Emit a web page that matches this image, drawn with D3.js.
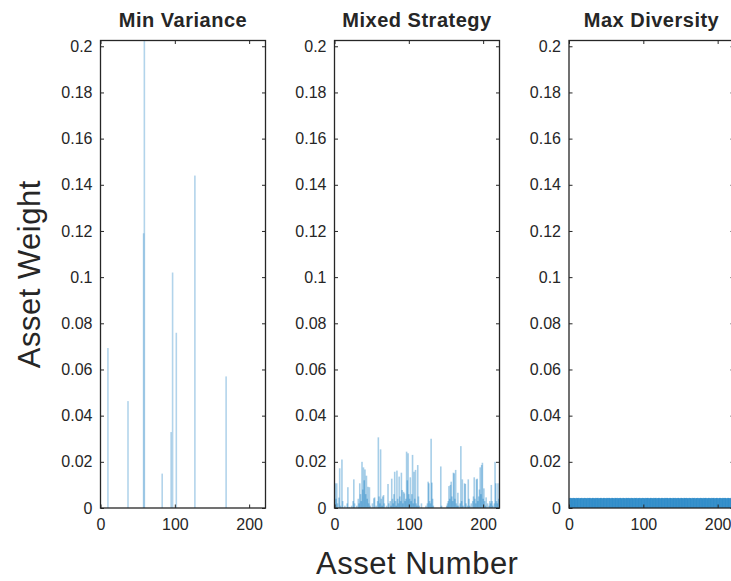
<!DOCTYPE html>
<html>
<head>
<meta charset="utf-8">
<script src="https://cdn.jsdelivr.net/npm/d3@7"></script>
<style>
  html, body { margin: 0; padding: 0; background: #fff; overflow: hidden; }
  svg { display: block; }
  text { font-family: "Liberation Sans", Arial, Helvetica, sans-serif; fill: #262626; }
</style>
</head>
<body>
<svg id="chart" width="731" height="581"></svg>
<script>
// Portfolio weights per asset (asset numbers 1..221)
const panelTitles = ["Min Variance", "Mixed Strategy", "Max Diversity"];
const yTicks = [0, 0.02, 0.04, 0.06, 0.08, 0.1, 0.12, 0.14, 0.16, 0.18, 0.2];
const xTicks = [0, 100, 200];
const assetCount = 221;

// Min variance: only a handful of assets receive weight
const minVarAssets  = [10, 37, 58, 59, 83, 95, 97, 102, 127, 169];
const minVarWeights = [0.0693, 0.0463, 0.119, 0.235, 0.0149, 0.0329, 0.102, 0.0759, 0.144, 0.057];

// Mixed strategy: weights for assets 1..221
const mixedWeights = [
  0.0107, 0.004, 0.0107, 0.002, 0, 0.0045, 0.0172, 0.001, 0, 0.021,
  0.003, 0, 0, 0.001, 0, 0, 0.002, 0.009, 0, 0.0005,
  0, 0, 0.001, 0, 0.003, 0.0124, 0.002, 0, 0, 0.001,
  0, 0.004, 0.002, 0.0107, 0.006, 0.003, 0.020, 0.008, 0.0176, 0.012,
  0.0167, 0.006, 0.014, 0.004, 0.0092, 0.002, 0.009, 0.001, 0, 0,
  0.002, 0, 0.0042, 0.0046, 0, 0.001, 0, 0.003, 0.0306, 0.005,
  0.002, 0.0254, 0.004, 0.001, 0.005, 0.0056, 0.002, 0, 0, 0.001,
  0, 0.0104, 0.002, 0, 0.003, 0.001, 0.0127, 0.004, 0.002, 0.006,
  0.0157, 0.003, 0.001, 0.0162, 0.004, 0.002, 0.0136, 0.005, 0.003, 0.0153,
  0.0078, 0.002, 0.007, 0.0063, 0.003, 0.004, 0.0244, 0.012, 0.0237, 0.006,
  0.004, 0.0133, 0.003, 0.006, 0.023, 0.002, 0.0157, 0.004, 0.0165, 0.002,
  0.001, 0.0186, 0.005, 0.001, 0, 0, 0.002, 0, 0, 0,
  0, 0, 0.001, 0, 0.002, 0.0114, 0.0107, 0.003, 0.002, 0.030,
  0.011, 0.004, 0.001, 0, 0, 0, 0, 0, 0, 0,
  0, 0, 0.018, 0.001, 0, 0, 0, 0, 0, 0,
  0.001, 0.002, 0.003, 0.0095, 0.004, 0.010, 0.0114, 0.005, 0.003, 0.0153,
  0.015, 0.004, 0.0165, 0.002, 0.001, 0.0066, 0.001, 0, 0.002, 0.0268,
  0.003, 0.0124, 0.001, 0, 0.0107, 0.0104, 0.002, 0, 0.001, 0.0124,
  0.004, 0.001, 0, 0.002, 0, 0.003, 0.005, 0.0133, 0.004, 0.002,
  0.0124, 0.0127, 0.003, 0.005, 0.008, 0.0176, 0.006, 0.0186, 0.0196, 0.004,
  0.0085, 0.003, 0.001, 0.0046, 0, 0.002, 0, 0.001, 0.003, 0.002,
  0.010, 0.003, 0.001, 0, 0.002, 0.020, 0.0107, 0.003, 0.002, 0.0107,
  0.004
];

// Max diversity: nearly equal weights across all assets
const maxDivWeights = [
  0.0043, 0.0044, 0.0043, 0.0042, 0.0043, 0.0044, 0.0043, 0.0043, 0.0042, 0.0044,
  0.0043, 0.0043, 0.0044, 0.0042, 0.0043, 0.0043, 0.0044, 0.0043, 0.0042, 0.0043,
  0.0044, 0.0043, 0.0043, 0.0042, 0.0044, 0.0043, 0.0043, 0.0044, 0.0043, 0.0042,
  0.0043, 0.0044, 0.0043, 0.0043, 0.0042, 0.0044, 0.0043, 0.0043, 0.0044, 0.0042,
  0.0043, 0.0043, 0.0044, 0.0043, 0.0042, 0.0043, 0.0044, 0.0043, 0.0043, 0.0042,
  0.0044, 0.0043, 0.0043, 0.0044, 0.0043, 0.0042, 0.0043, 0.0044, 0.0043, 0.0043,
  0.0042, 0.0044, 0.0043, 0.0043, 0.0044, 0.0042, 0.0043, 0.0043, 0.0044, 0.0043,
  0.0042, 0.0043, 0.0044, 0.0043, 0.0043, 0.0042, 0.0044, 0.0043, 0.0043, 0.0044,
  0.0043, 0.0042, 0.0043, 0.0044, 0.0043, 0.0043, 0.0042, 0.0044, 0.0043, 0.0043,
  0.0044, 0.0042, 0.0043, 0.0043, 0.0044, 0.0043, 0.0042, 0.0043, 0.0044, 0.0043,
  0.0043, 0.0042, 0.0044, 0.0043, 0.0043, 0.0044, 0.0043, 0.0042, 0.0043, 0.0044,
  0.0043, 0.0043, 0.0042, 0.0044, 0.0043, 0.0043, 0.0044, 0.0042, 0.0043, 0.0043,
  0.0044, 0.0043, 0.0042, 0.0043, 0.0044, 0.0043, 0.0043, 0.0042, 0.0044, 0.0043,
  0.0043, 0.0044, 0.0043, 0.0042, 0.0043, 0.0044, 0.0043, 0.0043, 0.0042, 0.0044,
  0.0043, 0.0043, 0.0044, 0.0042, 0.0043, 0.0043, 0.0044, 0.0043, 0.0042, 0.0043,
  0.0044, 0.0043, 0.0043, 0.0042, 0.0044, 0.0043, 0.0043, 0.0044, 0.0043, 0.0042,
  0.0043, 0.0044, 0.0043, 0.0043, 0.0042, 0.0044, 0.0043, 0.0043, 0.0044, 0.0042,
  0.0043, 0.0043, 0.0044, 0.0043, 0.0042, 0.0043, 0.0044, 0.0043, 0.0043, 0.0042,
  0.0044, 0.0043, 0.0043, 0.0044, 0.0043, 0.0042, 0.0043, 0.0044, 0.0043, 0.0043,
  0.0042, 0.0044, 0.0043, 0.0043, 0.0044, 0.0042, 0.0043, 0.0043, 0.0044, 0.0043,
  0.0042, 0.0043, 0.0044, 0.0043, 0.0043, 0.0042, 0.0044, 0.0043, 0.0043, 0.0044,
  0.0043, 0.0042, 0.0043, 0.0044, 0.0043, 0.0043, 0.0042, 0.0044, 0.0043, 0.0043,
  0.0044
];

// Build per-panel bar records from the arrays above
const minVarBars = minVarAssets.map((a, i) => ({ asset: a, w: minVarWeights[i] }));
const mixedBars = mixedWeights.map((w, i) => ({ asset: i + 1, w }));
const maxDivBars = maxDivWeights.map((w, i) => ({ asset: i + 1, w }));
const panelData = [minVarBars, mixedBars, maxDivBars];
const panelOpacity = [0.3, 0.35, 0.55];

const svg = d3.select("#chart");
const axisColor = "#262626";
const barColor = "#0072BD";

const panelLefts = [100.5, 334.5, 569];
const panelWidth = 165;
const plotTop = 40.5, plotBottom = 508;
const tickLen = 3.5;

const y = d3.scaleLinear().domain([0, 0.2025]).range([plotBottom, plotTop]);

panelData.forEach((bars, p) => {
  const left = panelLefts[p];
  const x = d3.scaleLinear().domain([0, assetCount + 1]).range([left, left + panelWidth]);
  // Bars are narrower than a pixel at this scale; give them a minimum visible width
  const barW = Math.max(x(0.8) - x(0), 1.6);

  const g = svg.append("g");
  const clipId = "clip" + p;
  g.append("clipPath").attr("id", clipId)
    .append("rect").attr("x", left).attr("y", plotTop)
    .attr("width", panelWidth).attr("height", plotBottom - plotTop);

  g.append("g").attr("clip-path", `url(#${clipId})`)
    .selectAll("rect").data(bars.filter(d => d.w > 0)).join("rect")
    .attr("x", d => x(d.asset) - barW / 2)
    .attr("width", barW)
    .attr("y", d => y(d.w))
    .attr("height", d => y(0) - y(d.w))
    .attr("fill", barColor)
    .attr("fill-opacity", panelOpacity[p]);

  // Axes: left/bottom with labels, mirrored ticks on right/top
  const yAxisL = d3.axisLeft(y).tickValues(yTicks).tickSizeInner(-tickLen).tickSizeOuter(0)
    .tickPadding(8).tickFormat(d3.format("~g"));
  const yAxisR = d3.axisRight(y).tickValues(yTicks).tickSizeInner(-tickLen).tickSizeOuter(0).tickFormat("");
  const xAxisB = d3.axisBottom(x).tickValues(xTicks).tickSizeInner(-tickLen).tickSizeOuter(0).tickPadding(11);
  const xAxisT = d3.axisTop(x).tickValues(xTicks).tickSizeInner(-tickLen).tickSizeOuter(0).tickFormat("");

  const styleAxis = sel => {
    sel.select(".domain").remove();
    sel.selectAll("line").attr("stroke", axisColor).attr("stroke-width", 1);
    sel.selectAll("text").attr("fill", axisColor).style("font-size", "16px")
      .style("font-family", '"Liberation Sans", Arial, sans-serif');
  };
  g.append("g").attr("transform", `translate(${left},0)`).call(yAxisL).call(styleAxis);
  g.append("g").attr("transform", `translate(${left + panelWidth},0)`).call(yAxisR).call(styleAxis);
  g.append("g").attr("transform", `translate(0,${plotBottom})`).call(xAxisB).call(styleAxis);
  g.append("g").attr("transform", `translate(0,${plotTop})`).call(xAxisT).call(styleAxis);

  // Box outline
  g.append("rect").attr("x", left).attr("y", plotTop)
    .attr("width", panelWidth).attr("height", plotBottom - plotTop)
    .attr("fill", "none").attr("stroke", axisColor).attr("stroke-width", 1.3);

  g.append("text")
    .attr("x", left + panelWidth / 2).attr("y", 27)
    .attr("text-anchor", "middle")
    .style("font-size", "20px").style("font-weight", "bold")
    .style("letter-spacing", "0.5px")
    .text(panelTitles[p]);
});

// Shared axis labels
svg.append("text")
  .attr("x", (panelLefts[0] + panelLefts[2] + panelWidth) / 2).attr("y", 574)
  .attr("text-anchor", "middle").style("font-size", "31px")
  .style("letter-spacing", "0.5px")
  .text("Asset Number");

svg.append("text")
  .attr("transform", `translate(40,${(plotTop + plotBottom) / 2}) rotate(-90)`)
  .attr("text-anchor", "middle").style("font-size", "31px")
  .style("letter-spacing", "0.5px")
  .text("Asset Weight");
</script>
</body>
</html>
